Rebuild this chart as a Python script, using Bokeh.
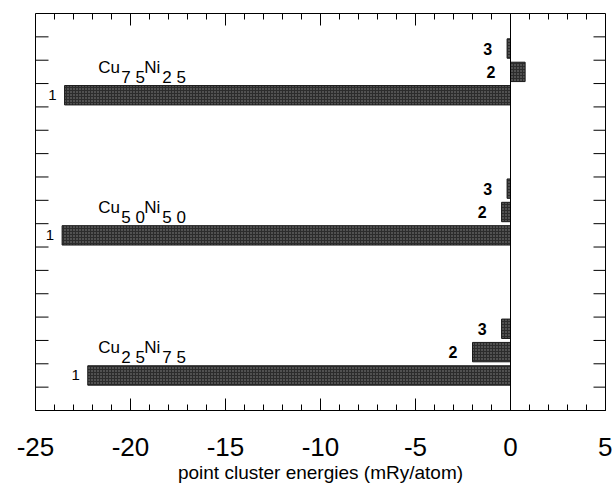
import math
from bokeh.plotting import figure
from bokeh.models import ColumnDataSource, FixedTicker, Span, Range1d
from bokeh.embed import file_html
from bokeh.resources import INLINE
from bokeh.core.properties import value

# ---- data ----
alloy_cu = [25, 50, 75]            # bottom -> top
alloy_ni = [75, 50, 25]
clusters = ["1", "2", "3"]
energy_1 = [-22.25, -23.6, -23.47]  # mRy/atom
energy_2 = [-2.0, -0.47, 0.77]
energy_3 = [-0.47, -0.18, -0.18]
x_ticks = [-25, -20, -15, -10, -5, 0, 5]
x_minor = list(range(-25, 6))
y_ticks = list(range(1, 17))
x_title = "point cluster energies (mRy/atom)"

FONT = "Liberation Sans"
X0, X1, Y0, Y1 = -25, 5, 0, 17

# ---- build sources ----
ys, lefts, rights, labx, labels, lsize, lstyle, loff = [], [], [], [], [], [], [], []
for g in range(len(alloy_cu)):
    for k, vals in enumerate([energy_1, energy_2, energy_3]):
        v = vals[g]
        ys.append(1.5 + 6 * g + k)
        lefts.append(0)
        rights.append(v)
        labx.append(min(v, 0))
        labels.append(clusters[k])
        lsize.append("15px" if k == 0 else "16px")
        lstyle.append("normal" if k == 0 else "bold")
        loff.append(-8 if k == 0 else -15)

bars = ColumnDataSource(dict(y=ys, left=lefts, right=rights, lx=labx,
                             text=labels, size=lsize, style=lstyle, off=loff))

gx, gy, gt, gxo, gyo = [], [], [], [], []
for g in range(len(alloy_cu)):
    c, n = alloy_cu[g], alloy_ni[g]
    base_y = 2.5 + 6 * g + 0.2
    pieces = [("Cu", 0, 0), (f"{c // 10} {c % 10}", 23, 10),
              ("Ni", 46, 0), (f"{n // 10} {n % 10}", 64, 10)]
    for t, xo, yo in pieces:
        gx.append(-21.7)
        gy.append(base_y)
        gt.append(t)
        gxo.append(xo)
        gyo.append(yo)
groups = ColumnDataSource(dict(x=gx, y=gy, text=gt, xo=gxo, yo=gyo))

# ---- figure ----
p = figure(width=612, height=487, x_range=Range1d(X0, X1), y_range=Range1d(Y0, Y1),
           output_backend="svg", toolbar_location=None, y_axis_location=None,
           min_border_left=35, min_border_right=7, min_border_top=13,
           min_border_bottom=77)
p.grid.visible = False
p.outline_line_color = "black"
p.outline_line_width = 1
p.background_fill_color = "white"
p.border_fill_color = "white"

xa = p.xaxis[0]
xa.ticker = FixedTicker(ticks=x_ticks, minor_ticks=x_minor)
xa.major_label_overrides = {t: str(t) for t in x_ticks}
xa.major_tick_in = 12
xa.major_tick_out = 0
xa.minor_tick_in = 6
xa.minor_tick_out = 0
xa.major_label_standoff = 27
xa.major_label_text_font = FONT
xa.major_label_text_font_size = "26px"
xa.major_label_text_color = "black"
xa.axis_label = x_title
xa.axis_label_text_font = FONT
xa.axis_label_text_font_size = "19px"
xa.axis_label_text_font_style = "normal"
xa.axis_label_standoff = 3
xa.axis_label_text_color = "black"
xa.axis_line_color = "black"

# inner tick marks on the other three sides
top_major = [t for t in x_ticks]
top_minor = [t for t in x_minor if t not in x_ticks]
p.ray(x=top_major, y=[Y1] * len(top_major), length=12, length_units="screen",
      angle=-math.pi / 2, line_color="black", line_width=1)
p.ray(x=top_minor, y=[Y1] * len(top_minor), length=6, length_units="screen",
      angle=-math.pi / 2, line_color="black", line_width=1)
p.ray(x=[X0] * len(y_ticks), y=y_ticks, length=13, length_units="screen",
      angle=0, line_color="black", line_width=1)
p.ray(x=[X1] * len(y_ticks), y=y_ticks, length=12, length_units="screen",
      angle=math.pi, line_color="black", line_width=1)

p.add_layout(Span(location=0, dimension="height", line_color="black", line_width=1))

p.hbar(y="y", left="left", right="right", height=0.83, source=bars,
       fill_color="#2c2c2c", line_color="#1a1a1a", line_width=1,
       hatch_pattern="dot", hatch_color="#8a8a8a", hatch_scale=3, hatch_weight=0.7)

p.text(x="lx", y="y", text="text", source=bars, x_offset="off",
       text_align="right", text_baseline="middle", text_font=value(FONT),
       text_font_size="size", text_font_style="style", text_color="black")

p.text(x="x", y="y", text="text", source=groups, x_offset="xo", y_offset="yo",
       text_align="left", text_baseline="alphabetic", text_font=value(FONT),
       text_font_size="17px", text_color="black")

open("out.html", "w").write(file_html(p, INLINE))
